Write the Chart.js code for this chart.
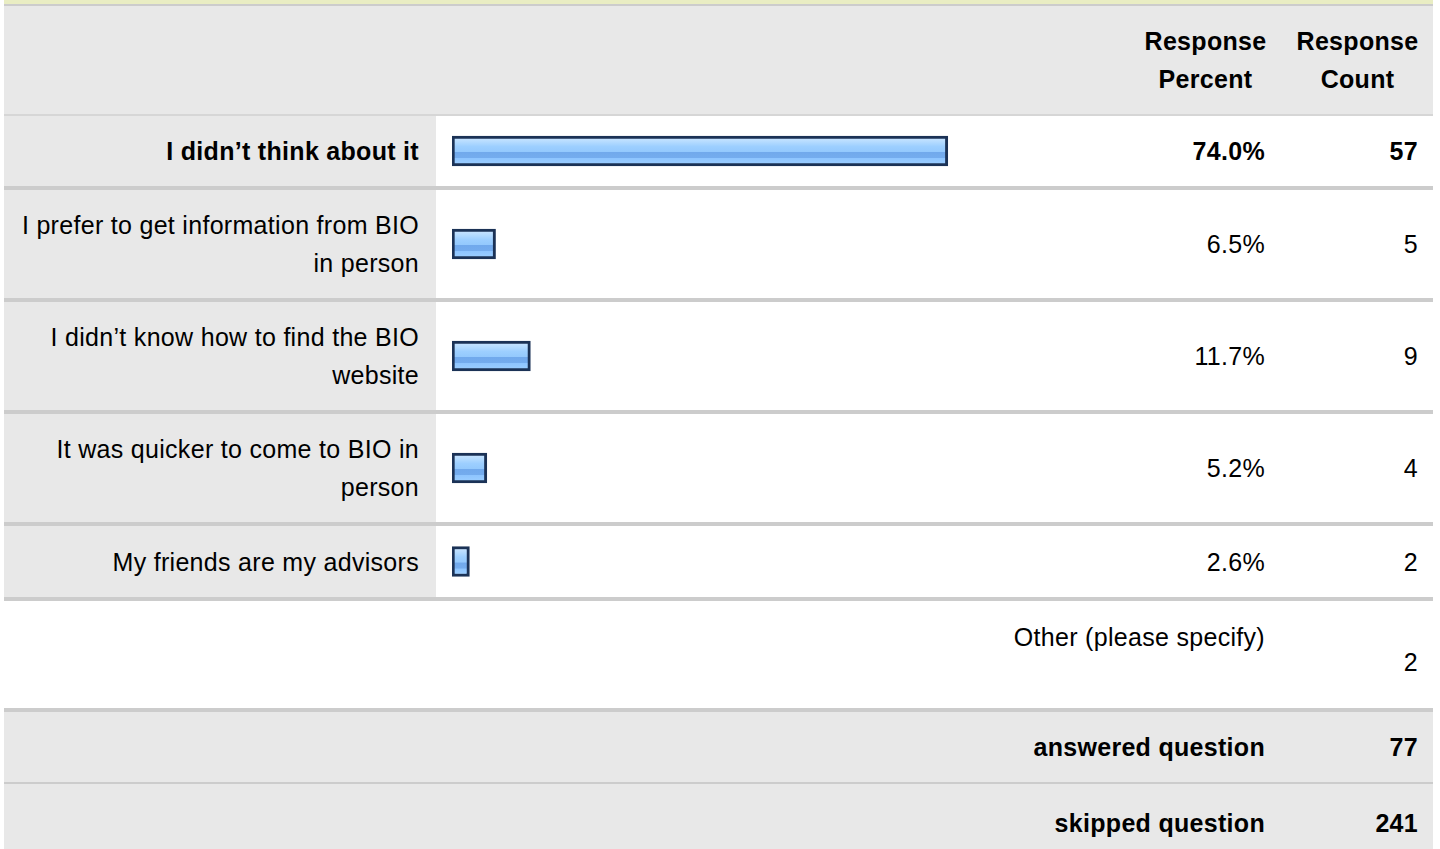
<!DOCTYPE html>
<html>
<head>
<meta charset="utf-8">
<script src="https://cdn.jsdelivr.net/npm/chart.js@4/dist/chart.umd.min.js"></script>
<style>
body{margin:0;background:#fff;font-family:"Liberation Sans",Arial,sans-serif;font-size:25px;letter-spacing:0.3px;color:#000;width:1440px;height:849px;overflow:hidden;position:relative}
#strip{position:absolute;left:4px;top:0;width:1429px;height:4px;background:#e9edc3}
#tbl{position:absolute;left:4px;top:4px;width:1429px}
.row{display:grid;grid-template-columns:432px 693px 153px 151px;box-sizing:border-box;border-bottom:4px solid #ccc;line-height:38px}
.cell{display:flex;align-items:center;justify-content:flex-end;text-align:right;box-sizing:border-box;padding-right:17px;position:relative}
.cell.cnt{padding-right:15px}
.lab{background:#e8e8e8}
.bar{position:relative;padding:0}
.bar canvas{position:absolute;left:16px;top:0}
.head{background:#e8e8e8;border-top:2px solid #ccc;border-bottom:2px solid #d6d6d6;height:112px;font-weight:bold}
.head .cell{justify-content:center;text-align:center;padding:0}
.gray{background:#e8e8e8;font-weight:bold}
.b{font-weight:bold}
.wide{position:absolute;right:17px;white-space:nowrap}
</style>
</head>
<body>
<div id="strip"></div>
<div id="tbl"></div>
<script>
// answer choices (wrapped the way the survey table wraps them)
const answers = [
  ["I didn’t think about it"],
  ["I prefer to get information from BIO", "in person"],
  ["I didn’t know how to find the BIO", "website"],
  ["It was quicker to come to BIO in", "person"],
  ["My friends are my advisors"]
]
const percents = [74.0, 6.5, 11.7, 5.2, 2.6]
const counts = [57, 5, 9, 4, 2]
const otherLabel = "Other (please specify)"
const otherCount = 2
const answered = 77
const skipped = 241

const rowHeights = [74, 112, 112, 112, 75]

const tbl = document.getElementById('tbl')

function row(cls, html, h) {
  const r = document.createElement('div')
  r.className = 'row ' + cls
  if (h) r.style.height = h + 'px'
  r.innerHTML = html
  tbl.appendChild(r)
  return r
}

row('head', '<div></div><div></div><div class="cell">Response<br>Percent</div><div class="cell">Response<br>Count</div>')

const maxPct = Math.max(...percents)
answers.forEach((lines, i) => {
  const bold = percents[i] === maxPct ? ' b' : ''
  const r = row('', 
    '<div class="cell lab' + bold + '">' + lines.join('<br>') + '</div>' +
    '<div class="bar"><canvas width="670" height="' + (rowHeights[i] - 4) + '"></canvas></div>' +
    '<div class="cell' + bold + '">' + percents[i].toFixed(1) + '%</div>' +
    '<div class="cell cnt' + bold + '">' + counts[i] + '</div>', rowHeights[i])
  const cv = r.querySelector('canvas')
  new Chart(cv, {
    type: 'bar',
    data: {
      labels: [lines.join(' ')],
      datasets: [{
        data: [percents[i]],
        barThickness: 30,
        borderWidth: 3,
        borderSkipped: false,
        borderColor: '#1b3256',
        backgroundColor: (ctx) => {
          const a = ctx.chart.chartArea
          if (!a) return '#9ccfff'
          const mid = (a.top + a.bottom) / 2
          const g = ctx.chart.ctx.createLinearGradient(0, mid - 15, 0, mid + 15)
          g.addColorStop(0, '#d2e8ff')
          g.addColorStop(0.2, '#b4dbff')
          g.addColorStop(0.35, '#9dcfff')
          g.addColorStop(0.52, '#94c9fd')
          g.addColorStop(0.55, '#71a9ec')
          g.addColorStop(0.72, '#74acee')
          g.addColorStop(0.75, '#8ec5ff')
          g.addColorStop(1, '#9fd0ff')
          return g
        }
      }]
    },
    options: {
      indexAxis: 'y',
      responsive: false,
      animation: false,
      layout: { padding: 0 },
      scales: {
        x: { min: 0, max: 100, display: false },
        y: { display: false }
      },
      plugins: { legend: { display: false }, tooltip: { enabled: false } }
    }
  })
})

row('', '<div></div><div></div><div class="cell"><span class="wide" style="top:17px">' + otherLabel + '</span></div><div class="cell cnt" style="padding-top:15px">' + otherCount + '</div>', 111)
row('gray', '<div></div><div></div><div class="cell"><span class="wide">answered question</span></div><div class="cell cnt">' + answered + '</div>', 72).style.borderBottomWidth = '2px'
row('gray', '<div></div><div></div><div class="cell"><span class="wide">skipped question</span></div><div class="cell cnt">' + skipped + '</div>', 78).style.borderBottom = 'none'
</script>
</body>
</html>
